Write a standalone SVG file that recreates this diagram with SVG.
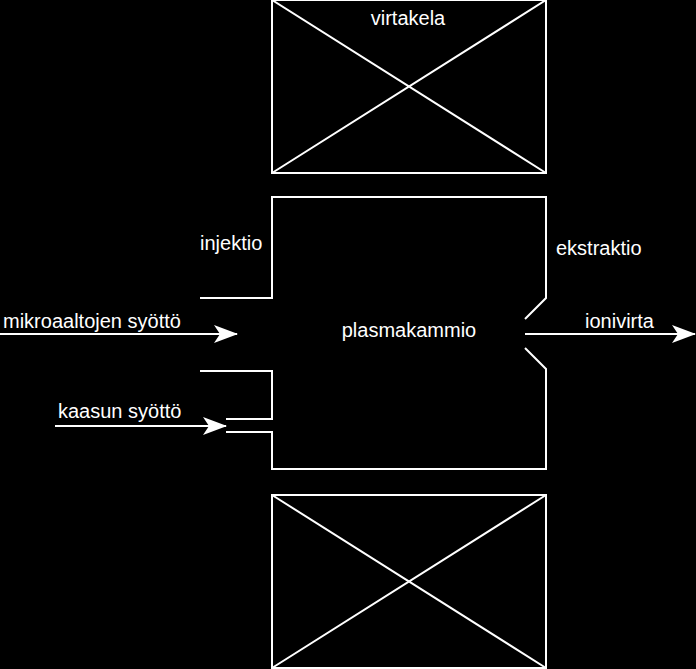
<svg xmlns="http://www.w3.org/2000/svg" width="696" height="669" viewBox="0 0 696 669">
<style>
.l{fill:none;stroke:#fff;stroke-width:2}
text{font-family:"Liberation Sans",Arial,sans-serif;font-size:20px;fill:#fff}
</style>
<defs><marker id="a" viewBox="0 0 24 18" refX="23" refY="9" markerWidth="24" markerHeight="18" markerUnits="userSpaceOnUse" orient="auto"><path d="M0,0 L24,9 L0,18 L6,9 Z" fill="#fff"/></marker></defs>
<rect width="696" height="669" fill="#000"/>
<g id="virtakela-top"><rect class="l" x="272" y="0" width="274" height="173"/><path class="l" d="M272,0 L546,173 M546,0 L272,173"/><text x="408" y="25" text-anchor="middle">virtakela</text></g>
<g id="virtakela-bottom"><rect class="l" x="272" y="495" width="274" height="173"/><path class="l" d="M272,495 L546,668 M546,495 L272,668"/></g>
<g id="plasmakammio"><path class="l" d="M200,298 H272 V197 H546 V298 L525,319 M525,348 L546,369 V469 H272 V432 H226 M226,419 H272 V371 H200"/>
<text x="409" y="337" text-anchor="middle">plasmakammio</text>
<text x="200" y="250">injektio</text><text x="556" y="255">ekstraktio</text></g>
<g id="connectors">
<line class="l" x1="0" y1="334" x2="237" y2="334" marker-end="url(#a)"/>
<line class="l" x1="55" y1="426" x2="226" y2="426" marker-end="url(#a)"/>
<line class="l" x1="525" y1="334" x2="695" y2="334" marker-end="url(#a)"/>
<text x="3" y="328">mikroaaltojen syöttö</text><text x="58" y="418">kaasun syöttö</text><text x="585" y="328">ionivirta</text>
</g>
</svg>
